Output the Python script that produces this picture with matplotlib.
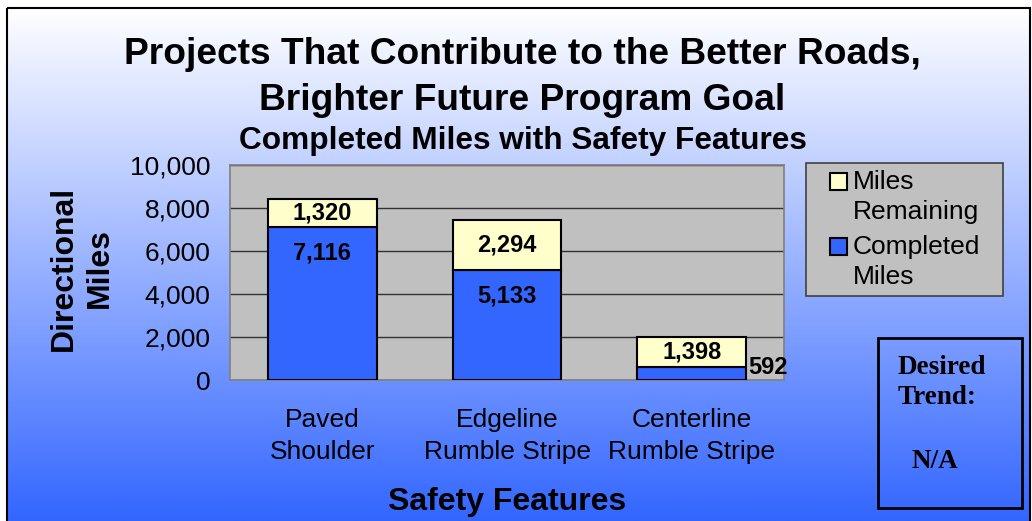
import numpy as np
import matplotlib
matplotlib.use("Agg")
import matplotlib.pyplot as plt
from matplotlib.patches import Rectangle
from matplotlib.colors import LinearSegmentedColormap
from matplotlib.ticker import FuncFormatter

# data
categories = ["Paved\nShoulder", "Edgeline\nRumble Stripe", "Centerline\nRumble Stripe"]
completed = [7116, 5133, 592]
remaining = [1320, 2294, 1398]
y_ticks = [0, 2000, 4000, 6000, 8000, 10000]
series_names = ["Miles\nRemaining", "Completed\nMiles"]
series_colors = ["#ffffcc", "#3366ff"]

plt.rcParams['font.family'] = ['Liberation Sans', 'DejaVu Sans']

W, H = 1032, 521
fig = plt.figure(figsize=(W / 100, H / 100), dpi=100)

# background in pixel coords
bg = fig.add_axes([0, 0, 1, 1], zorder=-10)
bg.set_xlim(0, W)
bg.set_ylim(H, 0)
bg.axis('off')
grad = np.linspace(0, 1, 256).reshape(-1, 1)
cmap = LinearSegmentedColormap.from_list("bg", ["#ffffff", "#3366ff"])
bg.imshow(grad, aspect='auto', cmap=cmap, extent=[7, 1030, 521, 8], origin='upper')
bg.add_patch(Rectangle((7, 8), 1023, 520, fill=False, ec='black', lw=1.5))

# titles
bg.text(522, 54, "Projects That Contribute to the Better Roads,", ha='center', va='center',
        fontsize=26.7, fontweight='bold')
bg.text(522, 100, "Brighter Future Program Goal", ha='center', va='center',
        fontsize=26.7, fontweight='bold')
bg.text(523, 141, "Completed Miles with Safety Features", ha='center', va='center',
        fontsize=22.8, fontweight='bold')

# desired trend box
serif = ['Liberation Serif', 'DejaVu Serif']
bg.add_patch(Rectangle((878, 338), 144, 170, fill=False, ec='black', lw=2))
bg.text(898, 368, "Desired", ha='left', va='center', fontsize=19.5, fontweight='bold', family=serif)
bg.text(898, 397, "Trend:", ha='left', va='center', fontsize=19.5, fontweight='bold', family=serif)
bg.text(912, 461, "N/A", ha='left', va='center', fontsize=19.5, fontweight='bold', family=serif)

# legend (drawn by hand so the key sits on the first text line)
bg.add_patch(Rectangle((806, 163), 197, 133, fc='#c0c0c0', ec='#404040', lw=1.2))
for k, (name, col) in enumerate(zip(series_names, series_colors)):
    y0 = 182 + k * 65
    bg.add_patch(Rectangle((830, y0 - 9), 17, 17, fc=col, ec='black', lw=1.5))
    bg.text(853, y0 - 12, name, ha='left', va='top', fontsize=19, linespacing=1.3)

# main chart
ax = fig.add_axes([230 / W, 1 - 380 / H, 554 / W, 215 / H])
ax.set_facecolor('#c0c0c0')
x = np.arange(len(categories))
bw = 0.59
ax.bar(x, completed, bw, color=series_colors[1], edgecolor='black', lw=1.5, zorder=3)
ax.bar(x, remaining, bw, bottom=completed, color=series_colors[0], edgecolor='black', lw=1.5, zorder=3)
ax.set_xlim(-0.5, 2.5)
ax.set_ylim(0, 10000)
ax.set_yticks(y_ticks)
ax.yaxis.set_major_formatter(FuncFormatter(lambda v, p: f"{int(v):,}"))
ax.set_xticks(x)
ax.set_xticklabels(categories, fontsize=19, linespacing=1.45)
ax.tick_params(axis='y', labelsize=19, length=0, pad=14)
ax.tick_params(axis='x', length=0, pad=20)
ax.yaxis.grid(True, color='#333333', lw=1)
ax.set_axisbelow(True)
for s in ax.spines.values():
    s.set_color('#808080')
    s.set_linewidth(1.2)

# value labels
for i in range(len(categories)):
    ax.text(x[i], completed[i] + remaining[i] / 2, f"{remaining[i]:,}", ha='center', va='center',
            fontsize=17, fontweight='bold', zorder=5)
    if completed[i] > 2000:
        ax.annotate(f"{completed[i]:,}", (x[i], completed[i]), xytext=(0, -19),
                    textcoords='offset points', ha='center', va='center',
                    fontsize=17, fontweight='bold', zorder=5)
    else:
        ax.text(x[i] + bw / 2 + 0.01, completed[i], f"{completed[i]:,}", ha='left', va='center',
                fontsize=17, fontweight='bold', zorder=5)

ax.set_xlabel("Safety Features", fontsize=23, fontweight='bold', labelpad=16)
ax.set_ylabel("Directional\nMiles", fontsize=23, fontweight='bold', linespacing=1.25)
ax.yaxis.set_label_coords(-0.208, 0.52)

fig.savefig("out.png", dpi=100)
